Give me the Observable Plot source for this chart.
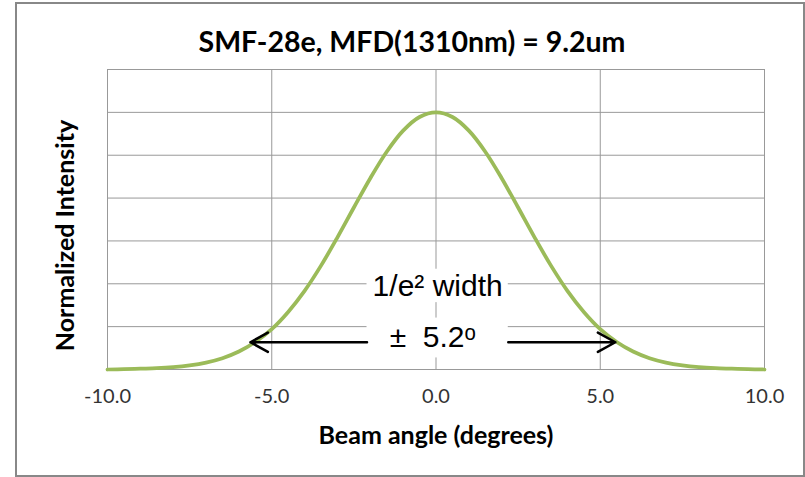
<!DOCTYPE html>
<html><head><meta charset="utf-8">
<script src="https://cdn.jsdelivr.net/npm/d3@7"></script>
<script src="https://cdn.jsdelivr.net/npm/@observablehq/plot@0.6"></script>
<style>
html,body{margin:0;padding:0;background:#fff;}
#wrap{position:relative;width:805px;height:477px;overflow:hidden;}
#border{position:absolute;left:15px;top:2px;width:790px;height:475px;border:2px solid #888;box-sizing:border-box;pointer-events:none;}
svg{display:block}
</style></head><body>
<div id="wrap"><div id="chart"></div><div id="border"></div></div>
<script>
// Data
const angles = [-10,-9.5,-9,-8.5,-8,-7.5,-7,-6.5,-6,-5.5,-5,-4.5,-4,-3.5,-3,-2.5,-2,-1.5,-1,-0.5,0,
                0.5,1,1.5,2,2.5,3,3.5,4,4.5,5,5.5,6,6.5,7,7.5,8,8.5,9,9.5,10];
const intensity = [0.000,0.001,0.003,0.005,0.009,0.016,0.027,0.044,0.070,0.107,0.157,0.224,0.306,0.404,0.514,0.630,0.744,0.847,0.929,0.982,1.000,
                   0.982,0.929,0.847,0.744,0.630,0.514,0.404,0.306,0.224,0.157,0.107,0.070,0.044,0.027,0.016,0.009,0.005,0.003,0.001,0.000];
const xTicks = [-10, -5, 0, 5, 10];
const yGrid = [0, 0.1667, 0.3333, 0.5, 0.6667, 0.8333, 1.0, 1.1667];
const titleText = ["SMF-28e, MFD(1310nm) = 9.2um"];
const xLabel = ["Beam angle (degrees)"];
const yLabel = ["Normalized Intensity"];
// annotation
const noteText = ["1/e\u00B2 width", "\u00B1  5.2\u1D52"];
const noteX = [0.05, -0.1];
const noteY = [0.325, 0.125];
const boxX1 = [-2.1, -2.1];
const boxX2 = [2.2, 2.2];
const boxY1 = [0.26, 0.045];
const boxY2 = [0.39, 0.2];
const arrowFrom = [-2.1, 2.2];
const arrowTo = [-5.65, 5.46];
const arrowLevel = [0.106, 0.106];

const chart = Plot.plot({
  width: 805, height: 477,
  marginLeft: 107, marginRight: 41, marginTop: 69, marginBottom: 108,
  style: {fontFamily: "Lato, 'Open Sans', sans-serif", background: "white", color: "black"},
  x: {domain: [-10, 10]},
  y: {domain: [0, 1.1667], axis: null},
  marks: [
    Plot.gridY(yGrid, {stroke: "#999", strokeOpacity: 1}),
    Plot.gridX(xTicks, {stroke: "#999", strokeOpacity: 1}),
    Plot.rect(boxX1, {x1: boxX1, x2: boxX2, y1: boxY1, y2: boxY2, fill: "white"}),
    Plot.line(angles, {x: angles, y: intensity, stroke: "#9BBB59", strokeWidth: 3.75, curve: "catmull-rom"}),
    Plot.arrow(arrowFrom, {x1: arrowFrom, x2: arrowTo, y1: arrowLevel, y2: arrowLevel, stroke: "black", strokeWidth: 2.5, headLength: 12, headAngle: 58}),
    Plot.text(noteText, {x: noteX, y: noteY, text: d => d, fontFamily: "'Liberation Sans', Arial, sans-serif", fontSize: 30, fill: "black"}),
    Plot.axisX(xTicks, {tickSize: 0, tickPadding: 19, tickFormat: d => d.toFixed(1), fontSize: 20, fill: "#333", label: null}),
    Plot.text(titleText, {frameAnchor: "top", dx: -24, dy: -27, lineAnchor: "middle", textAnchor: "middle", text: d => d, fontSize: 28.5, fontWeight: "bold", fill: "black"}),
    Plot.text(xLabel, {frameAnchor: "bottom", dy: 66, lineAnchor: "middle", textAnchor: "middle", text: d => d, fontSize: 25, fontWeight: "bold", fill: "black"}),
    Plot.text(yLabel, {frameAnchor: "left", dx: -42, dy: 16, rotate: -90, lineAnchor: "middle", textAnchor: "middle", text: d => d, fontSize: 25, fontWeight: "bold", fill: "black"})
  ]
});
document.getElementById("chart").appendChild(chart);
</script>
</body></html>
